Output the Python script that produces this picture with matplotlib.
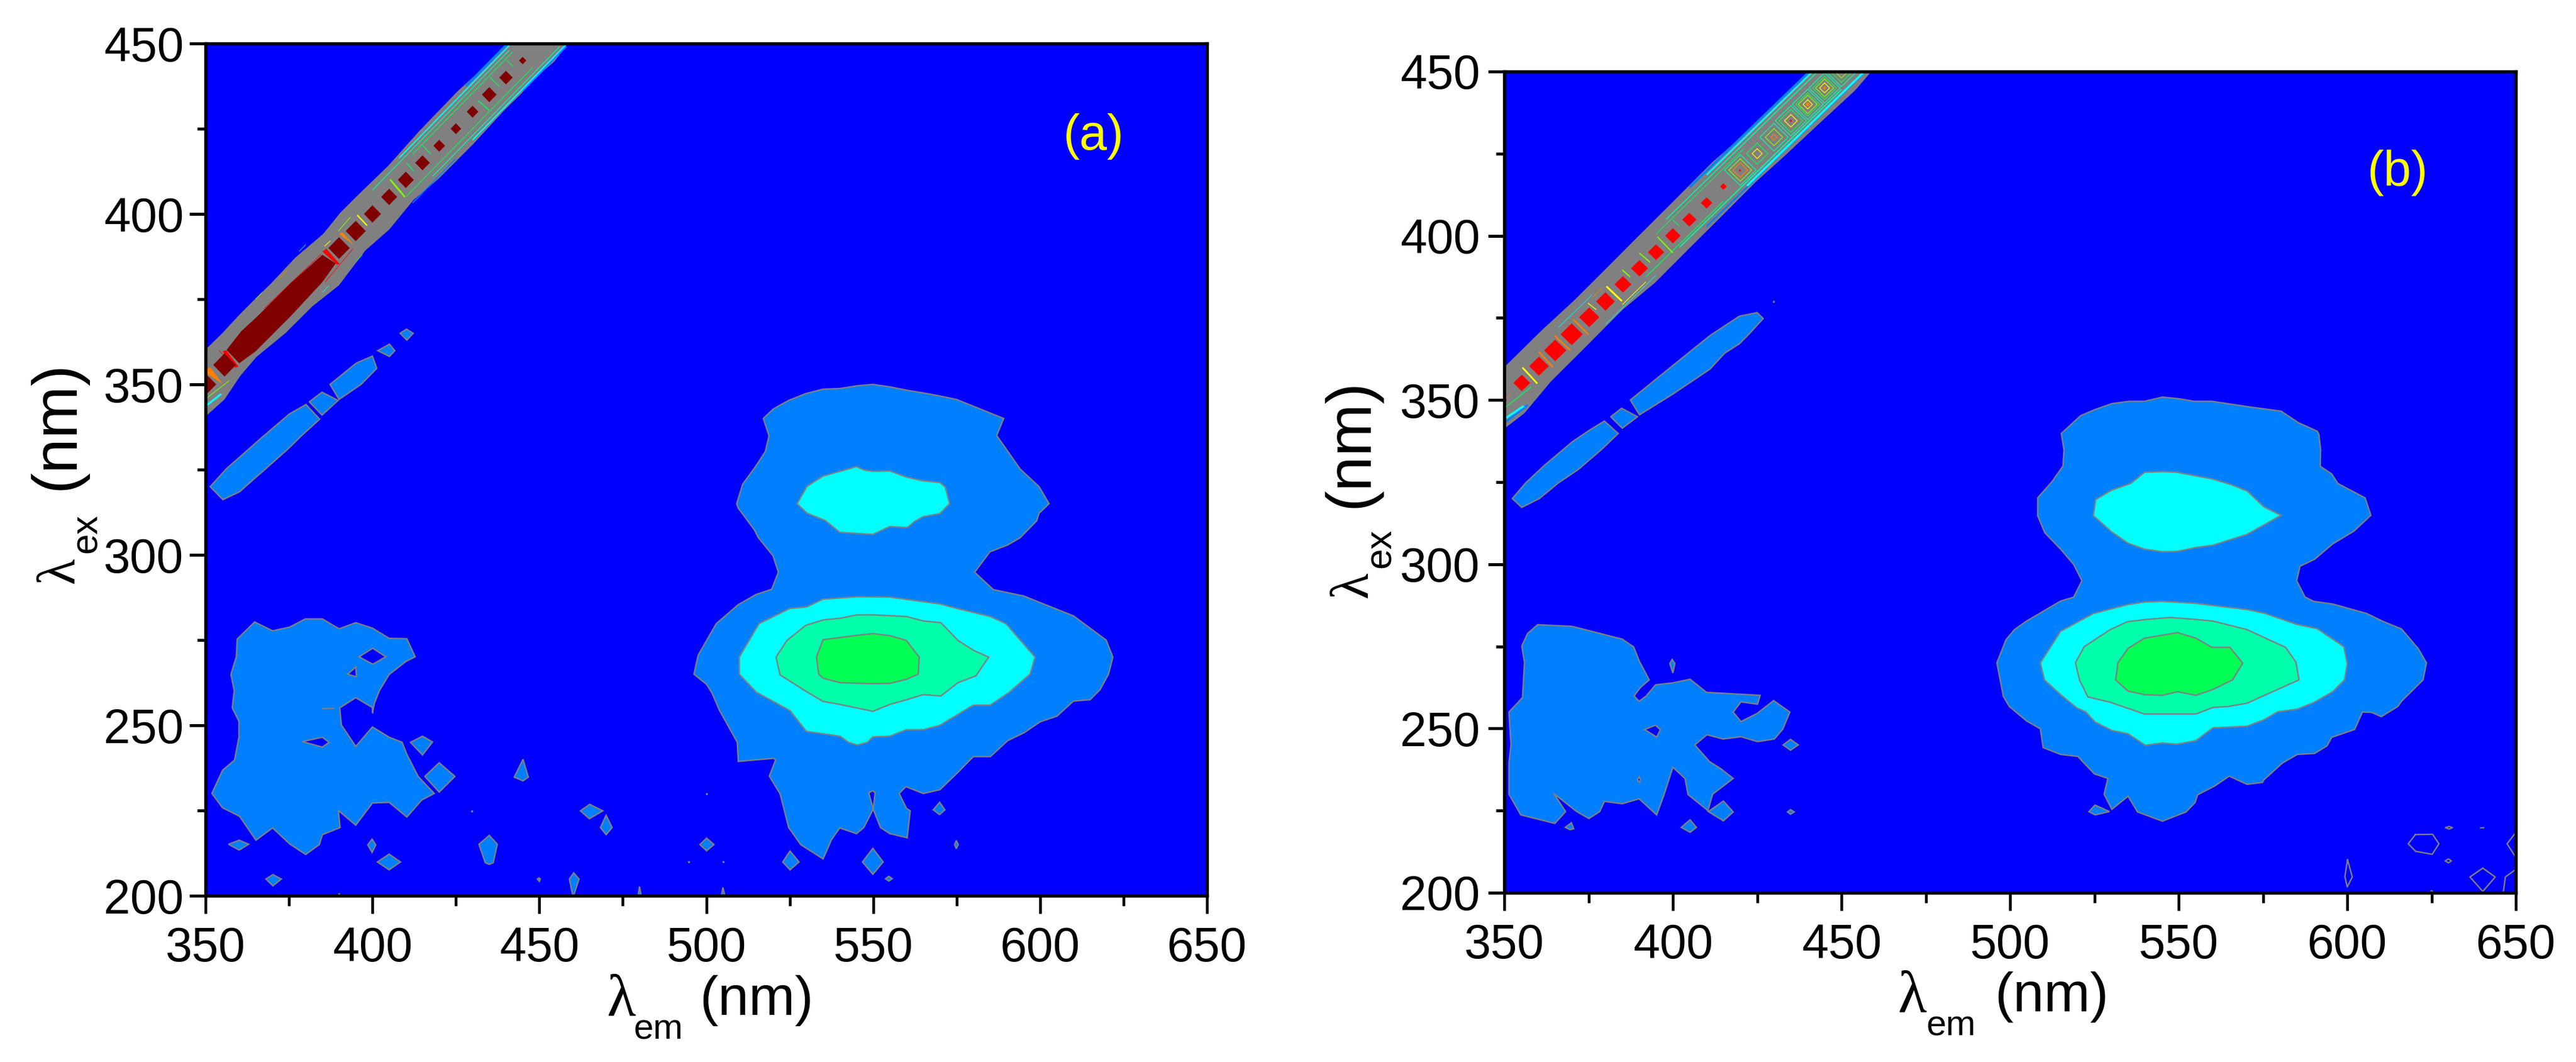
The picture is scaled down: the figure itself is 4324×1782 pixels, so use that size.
import matplotlib
matplotlib.use("Agg")
import matplotlib.pyplot as plt

W, H = 4324, 1782
BLUE, MID, CYAN, TEAL, GREEN = '#0000FF', '#0080FF', '#00FFFF', '#00FFAA', '#00FF55'
GRAY, DRED, RED, ORANGE, YELLOW, LIME = '#808080', '#800000', '#FF0000', '#FF8000', '#FFFF00', '#80FF00'
SANS = ['Liberation Sans']
SERIF = ['Liberation Serif', 'DejaVu Serif']

x_major = [350, 400, 450, 500, 550, 600, 650]
x_minor = [375, 425, 475, 525, 575, 625]
y_major = [200, 250, 300, 350, 400, 450]
y_minor = [225, 275, 325, 375, 425]

# ---------- panel (a) contour regions ----------
a_outer = [(549.9,350),(554.9,349.3),(560,348.3),(565,347.5),(570,346.6),(574.9,345.6),(580,343.6),(589.1,340),(587,335),(589.3,331.8),(594,325.2),(599.7,320),(602.7,315),(599.7,312.2),(599,310),(594,305),(590.3,302.9),(585,300.9),(580.4,294.9),(586,289.8),(595.2,287.9),(600.5,285.8),(610,282.1),(619.8,275),(621.8,270),(620.5,265),(618,260.5),(615,257.5),(610,257.1),(605.1,252.7),(600,251),(595.2,247.8),(590.3,245.5),(585.1,240.8),(580,240.8),(575.4,236.2),(570,231.1),(565,230),(559.8,232),(557.8,230),(560,225.6),(561.1,224.9),(560.2,217),(555,218.2),(552.2,220),(550,225.4),(550.6,230.2),(549.9,230.8),(548.7,230.2),(550,225.4),(547.2,220),(545,218.2),(540,219.9),(537.5,216.4),(535,210.8),(528.3,215),(524.7,220),(522.1,229.9),(518.9,235.1),(520.8,239.9),(520.1,240.3),(509.6,239.4),(509.3,245),(503.9,254.5),(501.7,259.5),(500.1,262),(496.3,265),(497.6,270.6),(503,279.8),(509.6,285.4),(515,288.4),(519.6,289.9),(521.6,294.9),(520,299.7),(515.5,305.2),(514.5,307.2),(509.6,313.7),(509.1,315),(510.9,320.7),(514.7,325.8),(517.7,330.3),(518.8,334.9),(517.1,340),(520.1,342.8),(524.7,345.3),(529.8,347.3),(535,348.6),(540.1,348.8),(545.2,349.6)]
a_cyan_up = [(545,325.9),(547.2,324.9),(549.9,324.5),(555,324.6),(560,322.8),(565,321.7),(570,321.2),(571.6,319.9),(572.9,315),(570,312.1),(565,311.2),(562.6,309.9),(560.2,308),(555,308.3),(549.9,306),(540,306.6),(535.6,310.1),(530.2,312.2),(527.2,315),(530.2,320.1),(535,323.1),(540.1,324.5)]
a_cyan_lo = [(545.2,287.7),(555,287.6),(570,285.6),(575,284.3),(585.1,281.9),(589.8,279.8),(598.5,270),(597,265),(590.8,259.7),(585.1,255.9),(580,255.9),(570,250),(565,248.7),(560,248.7),(555,246.8),(549.9,246.6),(548.3,245),(545.2,244.2),(542.6,245),(540.1,246.8),(530,248.2),(525.1,254.3),(515,259.7),(509.9,265),(509.9,270),(515.8,279.8),(525.1,284.3),(530,284.7),(535,287)]
a_teal = [(545.2,282.4),(549.9,282.4),(560,281.9),(565,280.6),(570.3,280.1),(575.4,274.9),(580.2,271.9),(584.6,270),(580.8,264.5),(575.4,262.5),(570.3,258.6),(565,259),(560,257.5),(555,256.1),(549.9,254.1),(540.1,256.1),(535,257),(529.8,260),(522.1,264.8),(520.9,270),(524.2,274.9),(529.8,279.3),(535,280.9),(540.1,281.4)]
a_green = [(549.9,276.9),(555,276.3),(559.9,274.9),(563.8,270),(563.5,265),(560,263.5),(555,262.3),(549.9,262.2),(540.1,262.5),(535,263.8),(533.7,265),(533,270),(535,275.1),(545.2,276.4)]
a_left = [(364.7,280.3),(370.1,277.7),(375.2,278.8),(379.9,281.2),(385,281.2),(390,278.3),(395,280.1),(400,278.5),(405,275.5),(410.3,275.4),(412.8,270.1),(410,268.7),(405,264.9),(402.1,260.2),(400.6,256.5),(400,253.5),(400,255.2),(395,258.1),(390.2,255.1),(390.7,250.1),(395,243.8),(400,249.5),(405,246.5),(408.9,245),(410.3,241.5),(413.7,235),(418.5,230),(414.8,228.1),(410.3,223.1),(405,227.4),(400,227.2),(395,220.7),(389.8,225),(390.3,220),(385,217.9),(384.1,215),(380,212.1),(375.2,215.2),(370.1,219.9),(365.1,216.3),(360.2,223.3),(355.1,225.8),(351.9,230),(355.1,236.8),(358.7,239.8),(360,246.5),(360,251.2),(358,255.1),(358.6,260.2),(357.6,264.9),(359.2,270),(359.5,275.3)]
a_holes = [
    [(400.1,272.6),(404,270.1),(400.1,267.9),(396,270.1)],
    [(395,267.1),(395.2,264.2),(392.6,265)],
    [(385,246.5),(387,245),(385,243.6),(379,245.2)],
    [(385,254.9),(388.6,255)],
]
a_islands = [
    [(569.9,227.4),(571.5,225.2),(569.9,223.8),(568,225.2)],
    [(574.9,216.2),(575.5,215),(574.9,213.8),(574.4,215)],
    [(549.9,213.9),(553,209.9),(549.9,206.3),(546.8,209.9)],
    [(525.1,213.1),(527.8,209.9),(525.1,207.6),(522.9,209.9)],
    [(500.1,216.9),(502.3,215),(500.1,213.2),(498.1,215)],
    [(554.7,205.7),(555.7,205),(554.7,204.3),(553.7,205)],
    [(480,202.7),(480.6,199.5),(479.5,199.5)],
    [(505,202.4),(505.7,199.5),(504.4,199.5)],
    [(415,246.8),(418,245.1),(415,241.3),(411.4,245)],
    [(420,239),(424.7,235),(420,230.4),(415.7,235)],
    [(445.1,240),(446.7,234.8),(445.1,233.7),(442.5,234.8)],
    [(465.1,226.8),(469,224.9),(465,222.6),(462.3,224.9)],
    [(470,223.6),(471.8,220),(470,217.9),(468.3,220)],
    [(360.1,216.3),(362.9,215.1),(360.1,213.4),(356.9,215.1)],
    [(399.9,216.6),(401,214.9),(399.9,212.7),(398.6,214.9)],
    [(405,212.2),(408.4,209.9),(405,207.6),(401.5,209.9)],
    [(435,217.7),(437.4,215.1),(436.2,209.7),(435,209.2),(433.8,209.7),(431.9,215.1)],
    [(370.2,206.2),(372.7,204.9),(370.2,202.9),(368.1,204.9)],
    [(460.3,206.7),(461.9,204.9),(460.1,199.5),(459,204.9)],
    [(449.9,205.2),(450.3,204.9),(450,204.2),(449.4,204.9)],
    [(380.1,344.1),(384.2,339.8),(378.7,334.9),(374.4,330.8),(366.7,324.1),(365.6,323.2),(360.2,318.5),(355.2,316.2),(351.4,320),(356.2,325.2),(361.3,329.6),(367.1,334.6),(375.1,341.3)],
    [(384.9,347.7),(389.7,345.3),(384.9,341),(381.1,344.9)],
    [(400,358.3),(401.3,354.7),(396.6,350),(390,345.6),(387.3,350),(395.1,356.2)],
    [(405.1,361.8),(406.7,359.9),(405.1,358.2),(401.6,359.9)],
    [(410.2,366.2),(412.2,365),(410.3,363),(408.3,365)],
]
a_dots = [(500,229.9),(494.8,209.9),(505,209.9),(429.8,224.9),(390,200.5)]
a_band = [(349,359.5),(350.6,360.5),(355.1,364.8),(360.3,370.3),(365,374.9),(369.9,379.6),(377,387),(385.4,394),(390.6,400.3),(395.4,405),(404.9,414),(414.1,424.1),(425.6,435.8),(430.4,440.1),(440,449.5),(442,452),(460,452),(457.9,449.5),(454.3,444.8),(448.7,440.1),(444.4,435.4),(439.2,430.4),(430,420.6),(419.7,410.5),(412.1,404.2),(404.9,395.6),(397.7,389.4),(389.8,379.2),(381.8,373),(373.8,365.2),(365.1,358.2),(360.3,352.7),(355.5,345.7),(350.6,341.4),(349,340)]
a_core = [(385,388),(389,385.5),(385,380),(375.4,369.9),(365,359.7),(360.1,356.2),(356.3,360.1),(360.7,365.6),(365.9,370.3),(375.4,379.6)]
a_core_left = [(349,353.6),(351,352.2),(353.2,350),(350.8,347.6),(349,346.5)]
a_spot_c = [445,440,435,430,425,420,415,410,405,400,395,390,355.7]
a_spot_h = [1.1,2,2.2,1.75,1.6,1.75,2.2,2.4,2.4,2.55,3,3.2,3.4]
a_wedges = [
    ([(355.1,359.7),(356.2,360),(359.9,355.2),(358.9,354.9)], RED),
    ([(385,389),(386.2,389.8),(390.2,385.3),(389.4,385.1)], RED),
    ([(390,394.1),(391,394.6),(394.6,390.8)], ORANGE),
    ([(349,354),(351.4,355),(355.1,350.2)], ORANGE),
]
a_streaks = [
    (428,437.5,441,450.5,MID,2.6),(412,403.2,425,416.2,MID,1.2),(445,436.2,458,449.2,MID,2.6),
    (408,416.4,441,449.4,CYAN,1.4),(430,421.7,458,449.7,CYAN,1.6),(350,343.6,354.7,347.2,CYAN,2.4),
    (400,407,441,448,TEAL,.9),(418,411,456,449,TEAL,.9),
    (412,417.5,442,447.5,GREEN,.8),(410,405,448,443,GREEN,.8),(350,345.7,357.1,351.1,LIME,.8),
    (395.4,399.7,398.4,396.6,YELLOW,1.6),(405.3,410.1,409.7,405,LIME,2),
    (431.6,433.3,435,430.4,GREEN,1.2),(435.2,440.1,438,437.4,GREEN,1),(440.1,445.2,442.2,443.2,GREEN,.8),
    (415.1,420,417.5,417.6,GREEN,1),(410.2,415,412.5,412.4,GREEN,1),
    (389.8,395,393.4,399.1,LIME,.8),(385.6,390.5,387.4,392.1,YELLOW,.8),
    (367.5,372.2,384.6,388.2,RED,.6),(385.8,380,394.2,389.8,RED,.6),
    (354,360,356,358,RED,.6),(370,370,372,372,LIME,.6),(365,375,367,377,LIME,.6),(372,381,374.5,383.5,ORANGE,.6),
    (385,377,387,379,CYAN,.6),(395,386,397,388,GREEN,.6),(378,389,380,391,CYAN,.6),
]

# ---------- panel (b) contour regions ----------
b_outer = [(545.2,350.9),(550,350.4),(554.6,349.6),(559.9,349.6),(570.3,348),(580.4,346.6),(585.5,343.1),(591.1,340.5),(591.6,339.5),(592.1,334.8),(592,329.8),(595.4,327.5),(597.2,324.6),(605.3,320.2),(607,314.9),(602,310.1),(595.7,306.2),(590.3,301.5),(586,299.4),(585,295),(587.5,290),(590.1,288.7),(595.7,287.9),(605.8,285),(610.4,282.7),(616.1,280.3),(621,274.4),(623.5,270),(622.5,264.8),(616.1,258.3),(615,256.7),(610.1,253.6),(607.3,254.9),(604.5,255),(602.2,249.7),(595.4,247.3),(594,244.7),(590.3,242.4),(585.2,242.1),(580.8,239.5),(575.2,234.3),(574.9,233.6),(570.3,233),(565,235.5),(560.7,232.5),(555.6,229.8),(554.9,227.5),(552.2,224.6),(545.2,221.8),(537.8,224.6),(535,229.4),(530.2,225.4),(527.9,230),(529,234.8),(525,236.2),(520.1,241.5),(515,242.1),(509.8,244.2),(509,249.9),(504.9,252.3),(499.8,256.7),(498,259.8),(496.1,270),(498.8,277),(501.3,280.1),(504.9,282.7),(515,288.8),(518.9,290),(521.3,295),(518.9,299.9),(515,304.6),(510.3,309.6),(508.2,314.8),(508.2,320.2),(512.5,325.2),(515.7,329.9),(516,334.8),(515.2,339.8),(520.9,345.2),(525.2,347.1),(530.2,348.9),(535.3,349.6),(539.9,349.6)]
b_cyan_up = [(539.9,328),(545.2,328.2),(549.5,328),(559.9,326),(565.7,324.2),(570.3,322.3),(575.4,317.4),(580.4,314.9),(570.3,309.1),(560.2,305.8),(555.1,305.1),(549.5,303.9),(545.2,303.8),(539.9,304.6),(535,306.4),(530.2,309.8),(524.7,314.8),(525.4,319.7),(530.2,322.6),(535.8,324.6)]
b_cyan_lo = [(545.2,288.7),(555.1,288.1),(570.3,286.2),(575.4,285.1),(585,281.7),(591.1,280.4),(599,274.9),(600,269.7),(599.2,264.8),(595.7,261.2),(590.3,258),(585.2,255.9),(579.4,255.1),(575.4,252.7),(570.3,250.7),(560.2,250.2),(555.1,246.3),(549.5,245.2),(545.2,245.6),(540.1,244.9),(535,248.4),(530.2,249.4),(525.2,252),(522.4,255.1),(519.9,256.2),(515,260.3),(510.2,264.8),(509,270),(515,279.6),(524.7,285),(534.8,287.7),(539.9,288.5)]
b_teal = [(547.5,283.8),(555.1,283.2),(560.2,282.7),(570.3,280.1),(581.7,274.7),(584.8,270.2),(585.7,264.8),(575.9,260.3),(570.3,257.7),(564.7,256.7),(560.2,256.4),(555.1,254.4),(539.9,254.4),(534.8,256.2),(529.7,258),(523.1,259.6),(520.6,264.8),(519.4,270),(522,274.9),(529.7,280.1),(534.8,282.5),(540.4,283.2)]
b_green = [(549.7,279.2),(555.1,277.5),(559.9,274.7),(565.2,274.7),(569,269.9),(566,264.8),(560.2,261.9),(555.1,260.1),(549.7,261.2),(545.2,260.1),(539.9,260.3),(535,261.4),(531.3,264.8),(532,270),(535,274.4),(539.9,277.5)]
b_left = [(359.9,281.6),(370.1,281.1),(385,277.2),(388.4,274.8),(390.1,270.4),(393,264.8),(390.4,262.5),(388.5,259.9),(390,258.3),(392,259.8),(394.9,263.3),(400,263.9),(405.1,265),(410,261),(415.4,260.7),(425.9,260.1),(425.1,257.4),(420.2,258.1),(417.9,255),(420.2,252.1),(425,254.6),(429.9,258.5),(434.7,255),(432.6,249.8),(430.1,246.8),(425.1,246),(420.2,247.5),(414.9,246.8),(410.1,248.1),(406.5,245),(410.9,239.9),(414.3,237.7),(417.9,234.8),(411.8,230),(410.4,225),(404.5,229.9),(403.6,234.8),(400,238.2),(397.4,229.9),(395.2,223.7),(390,228.6),(385,227.1),(379.7,227.8),(378.3,224.7),(375.1,222.6),(371.5,224.7),(364.7,230.2),(368.2,224.7),(365,221.1),(354.9,223.7),(351.4,230),(351.4,239.6),(352,245),(351.4,255),(355.4,259.4),(356,270.1),(355.2,275.1),(356.9,278.9)]
b_holes = [
    [(394.9,251),(396.3,249.6),(395.2,247.4),(391.6,249.7)],
    [(390,235.3),(390.4,234.4),(390,233.6),(389.5,234.4)],
]
b_islands = [
    [(525.2,226.7),(529.5,224.7),(525.2,223.7),(523.4,224.7)],
    [(399.8,271),(400.6,269.8),(400,266.9),(399.1,269.8)],
    [(434.9,246.7),(437.2,245),(434.9,243.4),(432.7,245)],
    [(434.9,225.3),(436,224.6),(434.9,223.9),(434,224.6)],
    [(415,227.9),(417.9,224.6),(415,221.9),(410.5,224.7)],
    [(405.1,222.2),(407,219.9),(405.1,218.4),(402.5,219.9)],
    [(369.9,221.3),(370.6,219.5),(369.5,219.2),(368.1,219.9)],
    [(425,376.6),(426.8,374.8),(422.5,370),(419.7,367.1),(415.4,364.3),(411,359.4),(400,351.8),(390.1,345.5),(387.4,350),(400,360.5),(411,369.6),(419.7,375.5)],
    [(384.8,347.5),(389.5,344.9),(385,341.4),(381.6,344.9)],
    [(379.7,343.6),(383.8,339.8),(378.7,334.8),(371.9,328.8),(366.1,324.8),(360.4,320),(355.2,317.3),(352.4,320),(356.4,324.8),(361.8,330),(370.1,337.2),(374.8,340.5)],
]
b_outlines = [
    [(620.2,217.7),(625.3,217.8),(627.2,214.9),(625.2,211.7),(620.3,212.6),(618.1,214.9),(620.2,217.7)],
    [(640.2,207.5),(643.9,204.8),(640.2,200.4),(636.4,204.8),(640.2,207.5)],
    [(600.1,210),(601.5,204.8),(600,201.8),(599.3,205),(600.1,210)],
    [(650.5,219),(647.4,214.9),(650.5,210)],
    [(650.5,207.5),(646.9,204.8),(646.2,199.5)],
    [(629.2,219.8),(630.2,220.2),(631.2,219.8),(630.2,219.4),(629.2,219.8)],
    [(639.6,219.8),(640.4,219.8)],
    [(629.1,209.7),(630,210.3),(630.9,209.7),(630,209.1),(629.1,209.7)],
    [(624,199.8),(625,200.6),(626,199.8)],
]
b_dots = [(429.9,380)]
b_band = [(349,358.8),(350.6,360.3),(361.4,371.2),(370.8,380.1),(379.9,389.4),(389.7,399.5),(400,410),(411.8,422.2),(423.6,432.7),(432.3,441.6),(440.2,449.3),(442,452),(460,452),(458,449.3),(454,444.5),(444.2,435.2),(432.3,423.8),(424.4,416.5),(415,406.8),(404.7,396.3),(394.5,385.8),(385,377.7),(373.2,365.5),(363.7,355.8),(355.8,346.1),(350.6,342),(349,340.5)]
b_spot_c = [355.2,360.3,365.1,370,375.2,380,385.2,390.1,395,400,404.9,410,415,419.9,435,350]
b_spot_h = [2.5,2.9,3.3,3.3,3,2.8,2.5,2.5,2.4,2.3,2.1,1.7,1,.4,.4,.8]
b_orange_c = [440,445]
b_orange_h = [.7,.5]
b_rings = [
    (420,4.7,TEAL),(420,3.4,LIME),(420,2.2,ORANGE),
    (425,3.2,GREEN),(425,1.5,YELLOW),(430,4.2,TEAL),(430,2.6,LIME),(430,.9,ORANGE),
    (435,4.6,TEAL),(435,3.5,GREEN),(435,1.9,YELLOW),
    (440,4.6,TEAL),(440,3.5,GREEN),(440,2.8,LIME),(440,1.4,YELLOW),
    (445,4.6,TEAL),(445,3.5,GREEN),(445,2.7,LIME),(445,1.5,YELLOW),
    (450,4.6,TEAL),(450,3.3,GREEN),(450,2,LIME),
]
b_streaks = [
    (405,414.8,441,450.5,MID,2.6),(410,402.8,428,420.8,MID,1.8),(430,423,457,450,MID,2.6),(350,343,357,348.5,MID,2.6),
    (410,418.5,441,449.5,CYAN,1.8),(422,415.2,457,450.2,CYAN,2.6),(350.6,344.6,355.8,348.2,CYAN,2.6),
    (398,405,443,450,TEAL,1.1),(402,396.5,450,444.5,TEAL,1.3),
    (395,400.5,421,426.5,GREEN,.8),(392,387.5,415,410.5,GREEN,1),(350,347.5,358,354,GREEN,1),
    (380,373,395,388,CYAN,.6),(366,372,376,382,CYAN,.6),
    (355.4,359.9,359.8,355,YELLOW,2),(360.2,364.7,364.5,359.9,ORANGE,1.8),(364.9,369.6,369.6,365.1,ORANGE,1.8),
    (370.4,374.6,374.9,370,ORANGE,1.8),(374.8,379.5,377.3,377.5,YELLOW,1),(380.3,384.6,384.9,380.1,YELLOW,2.2),
    (385,389.6,387.4,387.4,LIME,1.4),(390.1,394.7,393.3,391.9,LIME,1.4),(395.4,399.7,400,394.8,LIME,1.4),
    (400,404.8,402,402.9,GREEN,.9),
    (385,379,392,386,YELLOW,.8),(376,381,379,384,ORANGE,.6),(350,350,352,352,ORANGE,.6),
]


def pts(poly):
    return [p[0] for p in poly], [p[1] for p in poly]


def region(ax, poly, color, z=2):
    xs, ys = pts(poly)
    ax.fill(xs, ys, facecolor=color, edgecolor=GRAY, linewidth=1.7, zorder=z)


def spot(ax, c, h, color, z=6):
    ax.fill([c, c + h, c, c - h], [c + h, c, c - h, c], facecolor=color, edgecolor='none', zorder=z)


def ring(ax, c, h, color, z=5):
    ax.plot([c, c + h, c, c - h, c], [c + h, c, c - h, c, c + h], color=color, lw=.9, zorder=z)


def streaks(ax, rows):
    for x0, y0, x1, y1, color, lw in rows:
        ax.plot([x0, x1], [y0, y1], color=color, lw=lw, solid_capstyle='butt', zorder=4)


def frame(pos, pad_y):
    l, t, r, b = pos
    ax = fig.add_axes([l / W, 1 - b / H, (r - l) / W, (b - t) / H], facecolor=BLUE)
    ax.set_xticks(x_major)
    ax.set_xticks(x_minor, minor=True)
    ax.set_yticks(y_major)
    ax.set_yticks(y_minor, minor=True)
    ax.tick_params(axis='x', which='major', length=21.5, width=3.3, pad=15)
    ax.tick_params(axis='x', which='minor', length=12, width=3.3)
    ax.tick_params(axis='y', which='major', length=19.5, width=3.6, pad=pad_y)
    ax.tick_params(axis='y', which='minor', length=10, width=3.6)
    for lab in ax.get_xticklabels() + ax.get_yticklabels():
        lab.set_family(SANS)
        lab.set_fontsize(58)
    for s in ax.spines.values():
        s.set_linewidth(3.9)
        s.set_zorder(20)
    return ax


def px_text(x, y, s, size, family=SANS, rotation=0, color='k'):
    fig.text(x / W, 1 - y / H, s, fontsize=size, family=family, rotation=rotation,
             rotation_mode='anchor', ha='left', va='baseline', color=color)


fig = plt.figure(figsize=(W / 100, H / 100), dpi=100, facecolor='white')

# panel (a)
ax = frame((345, 73, 2026, 1503), 7)
region(ax, a_band, GRAY, 3)
streaks(ax, a_streaks)
for poly, col in a_wedges:
    xs, ys = pts(poly)
    ax.fill(xs, ys, facecolor=col, edgecolor='none', zorder=5)
xs, ys = pts(a_core)
ax.fill(xs, ys, facecolor=DRED, edgecolor='none', zorder=6)
xs, ys = pts(a_core_left)
ax.fill(xs, ys, facecolor=DRED, edgecolor='none', zorder=6)
for c, h in zip(a_spot_c, a_spot_h):
    spot(ax, c, h, DRED)
for poly, col in [(a_outer, MID), (a_left, MID), (a_cyan_up, CYAN), (a_cyan_lo, CYAN), (a_teal, TEAL), (a_green, GREEN)]:
    region(ax, poly, col)
for poly in a_holes:
    region(ax, poly, BLUE)
for poly in a_islands:
    region(ax, poly, MID)
xs, ys = pts(a_dots)
ax.plot(xs, ys, ls='none', marker='s', ms=2, color=GRAY, zorder=3)
ax.set_xlim(350, 650)
ax.set_ylim(200, 450)

# panel (b)
ax = frame((2525, 120, 4223, 1498), 10)
region(ax, b_band, GRAY, 3)
streaks(ax, b_streaks)
for c, h, col in b_rings:
    ring(ax, c, h, col)
for c, h in zip(b_spot_c, b_spot_h):
    spot(ax, c, h, RED)
for c, h in zip(b_orange_c, b_orange_h):
    spot(ax, c, h, ORANGE)
for poly, col in [(b_outer, MID), (b_left, MID), (b_cyan_up, CYAN), (b_cyan_lo, CYAN), (b_teal, TEAL), (b_green, GREEN)]:
    region(ax, poly, col)
for poly in b_holes:
    region(ax, poly, BLUE)
for poly in b_islands:
    region(ax, poly, MID)
for poly in b_outlines:
    xs, ys = pts(poly)
    ax.plot(xs, ys, color=GRAY, lw=1.7, zorder=3)
xs, ys = pts(b_dots)
ax.plot(xs, ys, ls='none', marker='s', ms=2, color=GRAY, zorder=3)
ax.set_xlim(350, 650)
ax.set_ylim(200, 450)

# axis labels, placed as separate pieces because the subscript sits far below
px_text(1018, 1703, 'λ', 72, SERIF)
px_text(1063, 1744, 'em', 43)
px_text(1174, 1703, '(nm)', 67)
px_text(3185, 1697, 'λ', 72, SERIF)
px_text(3233, 1738, 'em', 43)
px_text(3348, 1697, '(nm)', 67)
px_text(124, 979, 'λ', 65, SERIF, 90)
px_text(162, 928, 'ex', 45, SANS, 90)
px_text(124, 822, '(nm)', 76, SANS, 90)
px_text(2295, 1003, 'λ', 65, SERIF, 90)
px_text(2334, 953, 'ex', 45, SANS, 90)
px_text(2295, 852, '(nm)', 76, SANS, 90)

# panel tags
fig.text(1836 / W, 1 - 229 / H, '(a)', fontsize=60, family=SANS, color=YELLOW, ha='center', va='center')
fig.text(4025 / W, 1 - 290 / H, '(b)', fontsize=60, family=SANS, color=YELLOW, ha='center', va='center')

fig.savefig('out.png', dpi=100)
